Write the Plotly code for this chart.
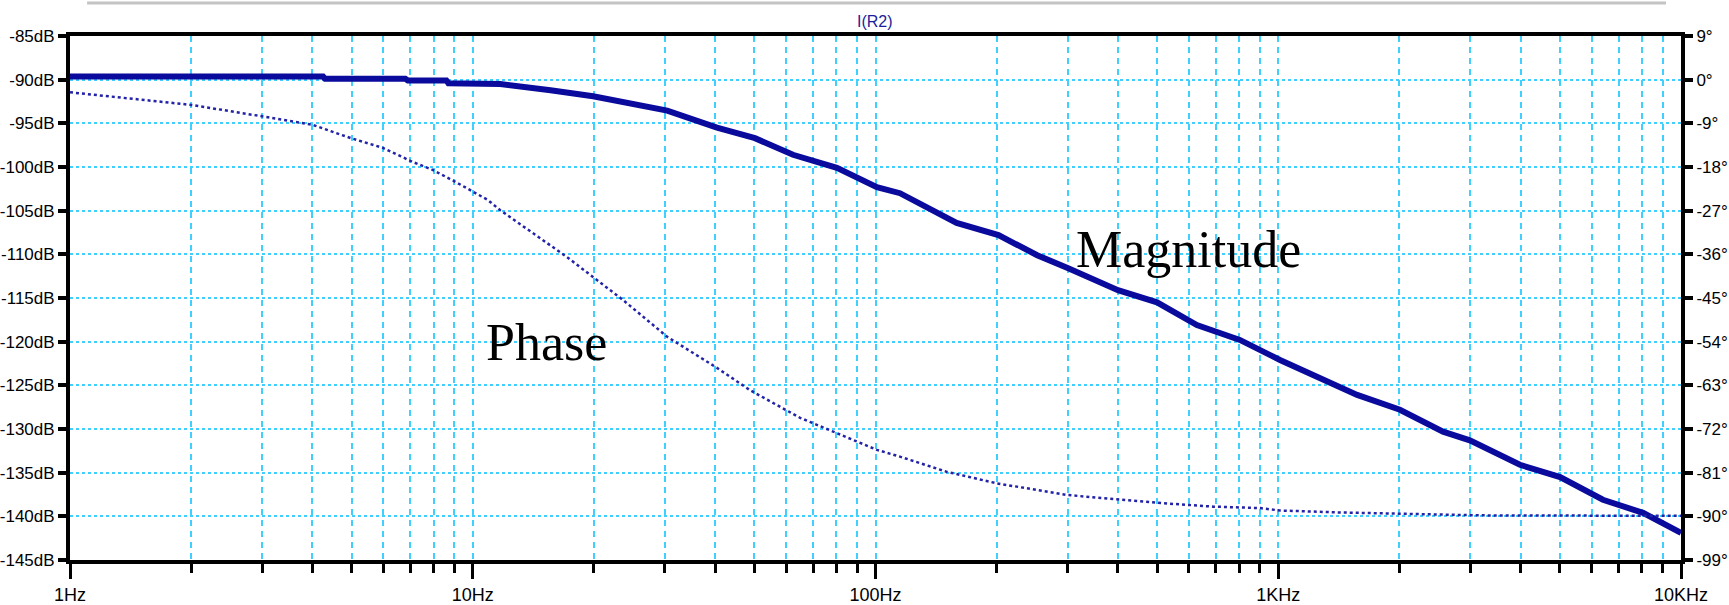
import plotly.graph_objects as go

# ---- data ----
mag_freq = [1, 4.25, 4.3, 6.8, 6.9, 8.6, 8.7, 11.7, 15.6, 19.9, 30.4, 40.4, 50.2, 62.4, 80.2,
            100.8, 115, 159, 202, 252, 301, 400, 500, 628, 803, 1010, 1570, 2005, 2565, 2990,
            3981, 5010, 6400, 8050, 10000]
mag_db = [-89.65, -89.65, -89.9, -89.9, -90.1, -90.1, -90.4, -90.5, -91.2, -91.9, -93.55, -95.5,
          -96.7, -98.6, -100.1, -102.3, -103.0, -106.4, -107.8, -110.1, -111.6, -114.1, -115.5,
          -118.1, -119.8, -122.1, -126.1, -127.8, -130.3, -131.3, -134.1, -135.5, -138.1,
          -139.6, -141.9]

ph_freq = [1, 2.0, 3.02, 4.0, 5.0, 6.0, 7.07, 7.95, 9.03, 10.9, 11.7, 17.1, 23.6, 30.4, 40.4,
           48.8, 65, 100.8, 115, 150, 200, 299, 518, 689, 902, 1010, 1423, 3170, 10000]
ph_deg = [-2.6, -5.2, -7.6, -9.3, -12.1, -14.1, -16.9, -18.6, -21.0, -24.8, -26.9, -36.5, -45.4,
          -53.0, -59.4, -64.0, -69.7, -76.3, -77.7, -80.8, -83.2, -85.6, -87.3, -88.0, -88.3,
          -88.8, -89.2, -89.8, -89.9]

x_tickvals = [1, 10, 100, 1000, 10000]
x_ticktext = ["1Hz", "10Hz", "100Hz", "1KHz", "10KHz"]
x_minor = [m * d for d in [1, 10, 100, 1000] for m in range(2, 10)]
db_ticks = list(range(-145, -84, 5))
db_text = [f"{v}dB" for v in db_ticks]
deg_ticks = list(range(-99, 10, 9))
deg_text = [f"{v}°" for v in deg_ticks]

title_text = "I(R2)"
label_phase = "Phase"
label_mag = "Magnitude"

# ---- styles ----
GRID = "#3fd0ff"
NAVY = "#0a0a9c"
SANS = "Liberation Sans, Arial, sans-serif"

fig = go.Figure()
fig.add_trace(go.Scatter(x=ph_freq, y=ph_deg, mode="lines", yaxis="y2",
                         line=dict(color="#2323a8", width=2.5, dash="3px,3px"),
                         showlegend=False, hoverinfo="skip"))
fig.add_trace(go.Scatter(x=mag_freq, y=mag_db, mode="lines", yaxis="y",
                         line=dict(color=NAVY, width=6),
                         showlegend=False, hoverinfo="skip"))

fig.update_layout(
    width=1729, height=605,
    margin=dict(l=70, r=48, t=36, b=45, autoexpand=False),
    paper_bgcolor="white", plot_bgcolor="white",
    xaxis=dict(type="log", range=[0, 4], tickvals=x_tickvals, ticktext=x_ticktext,
               showline=True, linecolor="black", linewidth=4, mirror=True,
               ticks="outside", ticklen=15, tickwidth=3, tickcolor="black",
               showgrid=True, gridcolor=GRID, gridwidth=1.5, griddash="6px,5px",
               minor=dict(tickvals=x_minor, ticks="outside", ticklen=9, tickwidth=3,
                          tickcolor="black", showgrid=True, gridcolor=GRID,
                          gridwidth=1.5, griddash="6px,5px"),
               tickfont=dict(family=SANS, size=18, color="black"),
               zeroline=False, automargin=False),
    yaxis=dict(range=[-145, -85], tickvals=db_ticks, ticktext=db_text,
               showline=True, linecolor="black", linewidth=4,
               ticks="outside", ticklen=8, tickwidth=4, tickcolor="black",
               showgrid=True, gridcolor=GRID, gridwidth=1.5, griddash="3px,3px",
               tickfont=dict(family=SANS, size=17, color="black"),
               zeroline=False, automargin=False),
    yaxis2=dict(range=[-99, 9], tickvals=deg_ticks, ticktext=deg_text, overlaying="y",
                side="right", showline=True, linecolor="black", linewidth=4,
                ticks="outside", ticklen=8, tickwidth=4, tickcolor="black",
                showgrid=False,
                tickfont=dict(family=SANS, size=17, color="black"),
                zeroline=False, automargin=False),
    shapes=[dict(type="line", xref="paper", yref="paper", x0=0.0106, x1=0.9907,
                 y0=1.063, y1=1.063, line=dict(color="#c4c4c4", width=3))],
    annotations=[
        dict(text=title_text, xref="paper", yref="paper", x=0.4997, y=1.027,
             showarrow=False, xanchor="center", yanchor="middle",
             font=dict(family=SANS, size=16, color="#1c1c9c")),
        dict(text=label_phase, xref="paper", yref="paper", x=0.2955, y=0.416,
             showarrow=False, xanchor="center", yanchor="middle",
             font=dict(family="Liberation Serif, Times New Roman, serif", size=52, color="black")),
        dict(text=label_mag, xref="paper", yref="paper", x=0.694, y=0.5935,
             showarrow=False, xanchor="center", yanchor="middle",
             font=dict(family="Liberation Serif, Times New Roman, serif", size=52, color="black")),
    ],
)

fig.write_html(
    "out.html",
    config={"displayModeBar": False},
    post_script="document.body.style.margin='0';document.body.style.overflow='hidden';",
)
